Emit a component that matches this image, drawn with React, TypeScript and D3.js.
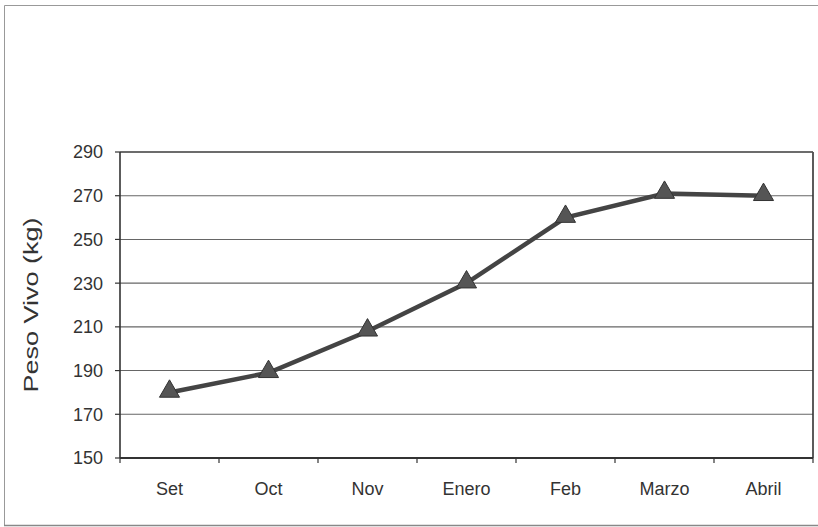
import React from "react";
import * as d3 from "d3";

const categories = ["Set", "Oct", "Nov", "Enero", "Feb", "Marzo", "Abril"];
const pesoVivo = [180, 189, 208, 230, 260, 271, 270];
const yTicks = [150, 170, 190, 210, 230, 250, 270, 290];

const W = 818;
const H = 527;
const left = 120;
const right = 813;
const top = 152;
const bottom = 458;

export default function App() {
  const x = d3.scaleBand<string>().domain(categories).range([left, right]);
  const y = d3.scaleLinear().domain([150, 290]).range([bottom, top]);
  const line = d3
    .line<number>()
    .x((_, i) => (x(categories[i]) as number) + x.bandwidth() / 2)
    .y((d) => y(d));
  const tri = d3.symbol().type(d3.symbolTriangle).size(175)();
  const font = "'Liberation Sans', Arial, sans-serif";
  return (
    <svg
      width={W}
      height={H}
      style={{ position: "absolute", left: 0, top: 0, background: "#fff" }}
      fontFamily={font}
    >
      <rect x={0} y={0} width={W} height={H} fill="#fff" />
      {/* outer frame */}
      <path d={`M4.5,${H - 2} V5.5 H${W}`} fill="none" stroke="#999" strokeWidth={1} />
      <line x1={4} x2={W} y1={525.5} y2={525.5} stroke="#888" strokeWidth={1.5} />
      {/* gridlines */}
      {yTicks.map((t) => (
        <line key={t} x1={left} x2={right} y1={y(t)} y2={y(t)} stroke="#666" strokeWidth={1.1} />
      ))}
      {/* plot border */}
      <line x1={right} x2={right} y1={top} y2={bottom} stroke="#333" strokeWidth={1.6} />
      <line x1={left} x2={right} y1={top} y2={top} stroke="#555" strokeWidth={1.3} />
      {/* axes */}
      <line x1={left} x2={left} y1={top} y2={bottom} stroke="#333" strokeWidth={1.6} />
      <line x1={left} x2={right} y1={bottom} y2={bottom} stroke="#333" strokeWidth={1.8} />
      {yTicks.map((t) => (
        <g key={t}>
          <line x1={left - 5} x2={left} y1={y(t)} y2={y(t)} stroke="#333" strokeWidth={1.2} />
          <text x={left - 17} y={y(t)} dy="0.36em" textAnchor="end" fontSize={18} fill="#333">
            {t}
          </text>
        </g>
      ))}
      {categories.map((c) => (
        <g key={c}>
          <line
            x1={x(c) as number}
            x2={x(c) as number}
            y1={bottom}
            y2={bottom + 5}
            stroke="#333"
            strokeWidth={1.2}
          />
          <text
            x={(x(c) as number) + x.bandwidth() / 2}
            y={bottom + 37}
            textAnchor="middle"
            fontSize={18}
            fill="#333"
          >
            {c}
          </text>
        </g>
      ))}
      <line x1={right} x2={right} y1={bottom} y2={bottom + 5} stroke="#333" strokeWidth={1.2} />
      <text
        transform={`translate(38,${(top + bottom) / 2}) rotate(-90)`}
        textAnchor="middle"
        fontSize={21}
        textLength={175}
        lengthAdjust="spacingAndGlyphs"
        fill="#333"
      >
        Peso Vivo (kg)
      </text>
      <path d={line(pesoVivo) || ""} fill="none" stroke="#444" strokeWidth={4.5} />
      {pesoVivo.map((v, i) => (
        <path
          key={i}
          d={tri || ""}
          transform={`translate(${(x(categories[i]) as number) + x.bandwidth() / 2},${y(v) - 1})`}
          fill="#555"
          stroke="#333"
          strokeWidth={1}
        />
      ))}
    </svg>
  );
}
